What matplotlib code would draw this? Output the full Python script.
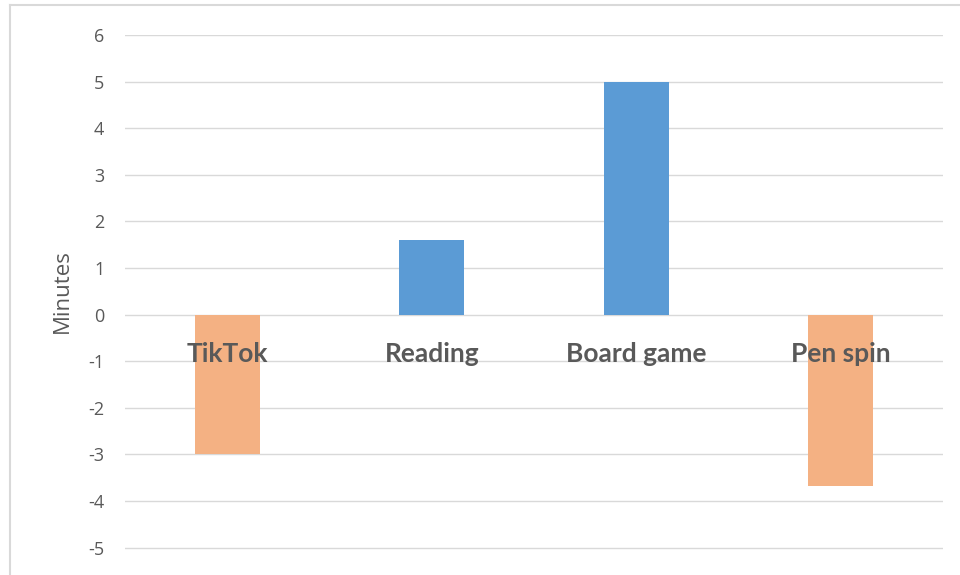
import matplotlib.pyplot as plt
from matplotlib.lines import Line2D

categories = ["TikTok", "Reading", "Board game", "Pen spin"]
minutes = [-3.0, 1.6, 5.0, -3.67]
bar_colors = ["#F4B183", "#5B9BD5", "#5B9BD5", "#F4B183"]
yticks = list(range(-5, 7))

W, H = 960, 575
fig = plt.figure(figsize=(W / 100, H / 100), dpi=100)

# plot area: x 125..943, y 6 at px 35, -6 at px ~594
top_px, bot_px = 35, 35 + 12 * 46.6
ax = fig.add_axes([125 / W, 1 - bot_px / H, (943 - 125) / W, (bot_px - top_px) / H])

x = list(range(len(categories)))
ax.bar(x, minutes, width=0.32, color=bar_colors, zorder=3)

ax.set_xlim(-0.5, len(categories) - 0.5)
ax.set_ylim(-6, 6)
ax.set_yticks(yticks)
ax.set_yticklabels([str(t) for t in yticks], fontsize=13, color="#595959",
                   family="Open Sans")
ax.tick_params(axis="y", length=0, pad=15)
ax.set_xticks([])
ax.grid(axis="y", color="#D9D9D9", linewidth=1, zorder=0)
for s in ax.spines.values():
    s.set_visible(False)

ax.set_ylabel("Minutes", fontsize=16, color="#595959", family="Open Sans")
ax.yaxis.set_label_coords(-(125 - 73) / 818, (594 - 291) / (594 - 35))

# category labels sit just under the zero line
for i, c in enumerate(categories):
    ax.text(i, -0.85, c, ha="center", va="center", fontsize=19,
            fontweight="bold", color="#595959", family="Lato", zorder=4)

# chart area border (left and top edges visible)
fig.add_artist(Line2D([10 / W, 10 / W], [0, 1 - 5 / H], transform=fig.transFigure,
                      color="#D9D9D9", linewidth=1.5))
fig.add_artist(Line2D([10 / W, 1], [1 - 5 / H, 1 - 5 / H], transform=fig.transFigure,
                      color="#D9D9D9", linewidth=1.5))

fig.savefig("out.png", dpi=100)
